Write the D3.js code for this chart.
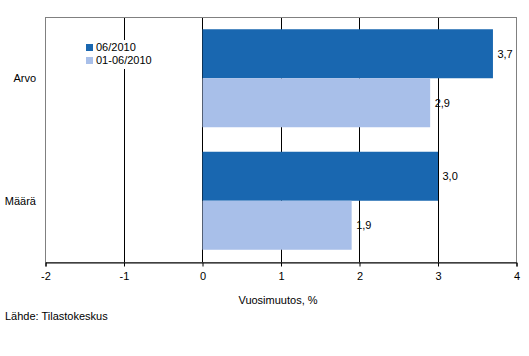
<!DOCTYPE html>
<html><head><meta charset="utf-8">
<script src="https://cdn.jsdelivr.net/npm/d3@7"></script>
<style>body{margin:0;background:#fff}svg{display:block}text{font-family:Arial,"Liberation Sans",sans-serif;font-size:11px;fill:#000}</style>
</head><body><svg id="c" width="529" height="356"></svg>
<script>
const categories = ["Arvo", "Määrä"];
const seriesNames = ["06/2010", "01-06/2010"];
const series1 = [3.7, 3.0];
const series2 = [2.9, 1.9];
const labels1 = ["3,7", "3,0"];
const labels2 = ["2,9", "1,9"];
const xTicks = [-2, -1, 0, 1, 2, 3, 4];
const colors = ["#1967b0", "#a8bfe9"];

const svg = d3.select("#c");
const L = 45, R = 516, T = 17, B = 262;
const x = d3.scaleLinear().domain([-2, 4]).range([L, R]);
const y = d3.scaleBand().domain(categories).range([T, B]).paddingInner(0.2).paddingOuter(0.1);
const sub = d3.scaleBand().domain(seriesNames).range([0, y.bandwidth()]);

// gridlines
svg.append("g").selectAll("line").data(xTicks.filter(t => t > -2 && t < 4)).join("line")
  .attr("x1", d => Math.round(x(d)) + 0.5).attr("x2", d => Math.round(x(d)) + 0.5)
  .attr("y1", T).attr("y2", B).attr("stroke", "#000").attr("stroke-width", 1);

// plot border
svg.append("rect").attr("x", L + 0.5).attr("y", T + 0.5).attr("width", R - L).attr("height", B - T)
  .attr("fill", "none").attr("stroke", "#808080");

const data = [];
categories.forEach((c, i) => {
  data.push({c, s: seriesNames[0], v: series1[i], lab: labels1[i], col: colors[0]});
  data.push({c, s: seriesNames[1], v: series2[i], lab: labels2[i], col: colors[1]});
});

svg.append("g").selectAll("rect").data(data).join("rect")
  .attr("x", d => x(Math.min(0, d.v)) + 0.5)
  .attr("y", d => y(d.c) + sub(d.s))
  .attr("width", d => Math.abs(x(d.v) - x(0)))
  .attr("height", sub.bandwidth())
  .attr("fill", d => d.col);

svg.append("g").selectAll("text").data(data).join("text")
  .attr("x", d => x(d.v) + 5)
  .attr("y", d => y(d.c) + sub(d.s) + sub.bandwidth() / 2)
  .attr("dy", "0.35em").text(d => d.lab);

// x axis
const xa = svg.append("g").attr("transform", `translate(0.5,${B + 0.5})`)
  .call(d3.axisBottom(x).tickValues(xTicks).tickSize(4).tickPadding(6).tickFormat(d => String(d).replace(".", ",")));
xa.select(".domain").attr("stroke", "#000");
xa.selectAll("line").attr("stroke", "#000");
xa.selectAll("text").attr("font-size", "11px").attr("font-family", "Arial, 'Liberation Sans', sans-serif").attr("fill", "#000");

// category labels
svg.append("g").selectAll("text").data(categories).join("text")
  .attr("x", 36).attr("y", d => y(d) + y.bandwidth() / 2).attr("dy", "0.35em")
  .attr("text-anchor", "end").text(d => d);

// legend
const lg = svg.append("g").attr("transform", "translate(84,40)");
lg.append("rect").attr("x", 0).attr("y", 0).attr("width", 68).attr("height", 29).attr("fill", "#fff");
seriesNames.forEach((n, i) => {
  lg.append("rect").attr("x", 2).attr("y", 4 + i * 13).attr("width", 7).attr("height", 7).attr("fill", colors[i]);
  lg.append("text").attr("x", 12).attr("y", 7.5 + i * 13).attr("dy", "0.35em").text(n);
});

svg.append("text").attr("x", 278).attr("y", 300).attr("dy", "0.35em").attr("text-anchor", "middle").text("Vuosimuutos, %");
svg.append("text").attr("x", 5).attr("y", 316).attr("dy", "0.35em").text("Lähde: Tilastokeskus");
</script></body></html>
